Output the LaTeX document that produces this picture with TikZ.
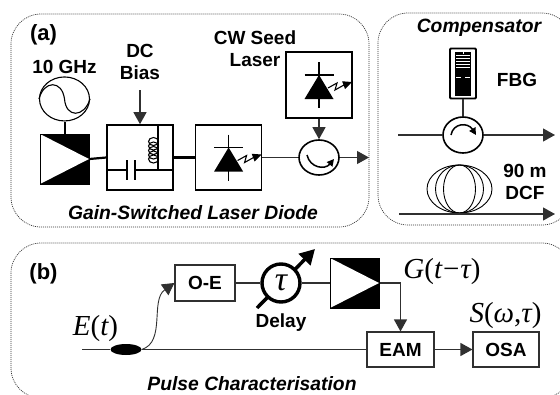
\documentclass[tikz,border=0pt]{standalone}
\usepackage{fontspec}
\setmainfont{Liberation Sans}
\newfontfamily\symfont{Liberation Serif}
\usetikzlibrary{positioning,arrows.meta,shapes.geometric,calc}
\definecolor{cline}{HTML}{303030}
\definecolor{cdots}{HTML}{333333}
\tikzset{
 lbl/.style={inner sep=0pt, align=center, font=\fontsize{19}{22}\selectfont\bfseries},
 ilbl/.style={inner sep=0pt, font=\fontsize{19.3}{22}\selectfont\bfseries\itshape},
 tag/.style={inner sep=0pt, font=\fontsize{22}{24}\selectfont\bfseries},
 sym/.style={inner sep=0pt, font=\fontsize{29}{30}\selectfont\symfont},
 panel/.style={draw=cdots, dash pattern=on 1pt off 1pt, line width=0.7pt, rounded corners=30pt},
 blk/.style={rectangle, draw=black, line width=1.6pt, minimum width=66pt, minimum height=65pt, inner sep=0pt},
 tbox/.style={rectangle, draw=cline, line width=1.1pt, inner sep=0pt, minimum height=35pt, font=\fontsize{19}{22}\selectfont\bfseries},
 amp/.style={rectangle, draw=black, fill=black, line width=1pt, minimum width=49pt, minimum height=50pt, inner sep=0pt,
 path picture={\fill[white] (path picture bounding box.north west) -- (path picture bounding box.east) -- (path picture bounding box.south west) -- cycle;}},
 circu/.style={ellipse, draw=black, line width=1.6pt, minimum width=40pt, minimum height=35pt, inner sep=0pt},
 fl/.style={draw=cline, line width=1.2pt},
 fla/.style={-{Triangle[length=12pt,width=13pt]}, draw=cline, line width=1.2pt},
 flb/.style={draw=black, line width=3.2pt},
 pics/ldiode/.style={code={
 \draw[black, line width=1.6pt] (0,-23) -- (0,23) (-14.5,-10) -- (14.5,-10);
 \fill[black] (0,-10) -- (14.5,14) -- (-14.5,14) -- cycle;
 \draw[black, line width=1.1pt, -{Triangle[length=9pt,width=8pt]}] (9,3) -- (18,-2) -- (16,5) -- (25,0) -- (33,-3);
 }},
}
\begin{document}
\begin{tikzpicture}[x=1pt,y=-1pt]
 \useasboundingbox (0,0) rectangle (560,394);
 \clip (0,0) rectangle (560,394);
 % panels
 \draw[panel] (11,14) rectangle (369,227);
 \draw[panel] (378,13) rectangle (572,225);
 \draw[panel] (11,243) rectangle (572,398);
 % gain switched source
 \node[amp] (AMPA) at (64.5,159) {};
 \node[ellipse, draw=black, line width=1.1pt, minimum width=50pt, minimum height=44pt, inner sep=0pt, above=12pt of AMPA] (RF) {};
 \node[lbl, above=3pt of RF] (RFL) {10 GHz};
 \node[blk] (BIAS) at (140,157.5) {};
 \node[blk, right=21pt of BIAS] (LD) {};
 \node[blk, minimum height=66pt] (SEED) at (319,85) {};
 \node[circu] (CIRA) at (319,157.5) {};
 \coordinate (OUTA) at (369,157.5);
 \coordinate (DCIN) at (140,90);
 \node[lbl] (DCL) at (140,62) {DC\\Bias};
 \node[lbl] (CWT) at (255,48.5) {CW Seed\\Laser};
 \node[tag] (AL) at (43.5,35) {(a)};
 \node[ilbl] (GSL) at (193,213) {Gain-Switched Laser Diode};
 % sine wave
 \draw[black, line width=1.1pt] (RF.west) .. controls (44,80) and (62,80) .. (RF.center) .. controls (66,118) and (84,118) .. (RF.east);
 \draw[black, line width=2pt] (RF) -- (AMPA);
 \draw[flb, line width=2.2pt] (AMPA.east) -- (BIAS.west);
 \draw[flb] (BIAS) -- (LD);
 \draw[fla] (DCIN) -- (BIAS.north);
 % tee inside the bias box
 \draw[black, line width=1.6pt] (158,125) -- (158,170) (107,170) -- (127,170) (135,170) -- (173,170);
 \draw[black, line width=1.6pt] (127,160) -- (127,180) (135,160) -- (135,180);
 \draw[black, line width=1.1pt] (153.5,141.5) ellipse (5 and 4) (153.5,146) ellipse (5 and 4) (153.5,150.5) ellipse (5 and 4) (153.5,155) ellipse (5 and 4) (153.5,159) ellipse (5 and 4);
 \pic at (LD.center) {ldiode};
 \pic at (SEED.center) {ldiode};
 \draw[fl] (LD) -- (CIRA);
 \draw[fla] (SEED) -- (CIRA);
 \draw[fla] (CIRA) -- (OUTA);
 \draw[black, line width=1.5pt, -{Triangle[length=7pt,width=7pt]}] (307,155) .. controls (310,168) and (325,170) .. (334,159);
 % compensator
 \node[ilbl] (COMP) at (479,28) {Compensator};
 \node[rectangle, rounded corners=1pt, draw=black, fill=white, line width=1.8pt, minimum width=26pt, minimum height=50pt, inner sep=0pt] (FBG) at (463,73.5) {};
 \fill[black] (455,52) rectangle (471,96);
 \draw[white, line width=0.9pt] (456,55) -- (470,55) (456,58) -- (470,58) (456,61) -- (470,61) (456,64) -- (470,64) (456,67) -- (470,67) (456,77) -- (461,77) (465,77) -- (470,77);
 \draw[white, line width=1pt] (463,52) -- (463,54);
 \node[lbl] (FBGL) at (517,80) {FBG};
 \node[circu, minimum height=36pt] (CIRB) at (463,135) {};
 \coordinate (INB) at (398,135);
 \coordinate (OUTB) at (555,135);
 \draw[fl] (FBG) -- (CIRB);
 \draw[fl] (INB) -- (CIRB);
 \draw[fla] (CIRB) -- (OUTB);
 \draw[black, line width=1.5pt, -{Triangle[length=7pt,width=7pt]}] (451,135) .. controls (453,123) and (468,122) .. (476,135);
 \node[ellipse, draw=black, line width=0.9pt, minimum width=65pt, minimum height=48pt, inner sep=0pt] (COILA) at (459.5,189) {};
 \node[ellipse, draw=black, line width=0.9pt, minimum width=48pt, minimum height=48pt, inner sep=0pt] (COILB) at (459.5,189) {};
 \node[ellipse, draw=black, line width=0.9pt, minimum width=32pt, minimum height=48pt, inner sep=0pt] (COILC) at (459.5,189) {};
 \node[lbl] (DCFL) at (525,181.5) {90 m\\DCF};
 \coordinate (INC) at (399,214);
 \coordinate (OUTC) at (555,214);
 \draw[fla] (INC) -- (OUTC);
 % characterisation
 \node[tag] (BL) at (43.5,274) {(b)};
 \node[tbox, minimum width=60pt, minimum height=36pt] (OE) at (205,283) {O-E};
 \coordinate (DLYS) at (257,308);
 \coordinate (DLYE) at (315,249);
 \draw[black, line width=3.5pt, -{Triangle[length=15pt,width=16pt]}] (DLYS) -- (DLYE);
 \node[circle, draw=black, fill=white, line width=3.4pt, minimum size=38pt, inner sep=0pt, sym] (DLY) at (281,283) {\fontsize{34}{34}\selectfont\itshape τ};
 \node[lbl] (DLYL) at (281,323) {Delay};
 \node[amp] (AMPB) at (354.5,283) {};
 \node[tbox, minimum width=67pt] (EAM) at (400.5,349.5) {EAM};
 \node[tbox, minimum width=66pt] (OSA) at (506,349.5) {OSA};
 \node[ellipse, fill=black, minimum width=31pt, minimum height=11pt, inner sep=0pt] (TAP) at (126,349.5) {};
 \coordinate (EIN) at (82,349.5);
 \node[sym] (EL) at (95.5,329) {\itshape E\upshape(\itshape t\upshape)};
 \node[sym] (GL) at (442,272) {\itshape G\upshape(\itshape t\upshape\kern1pt−\kern1pt\itshape τ\upshape)};
 \node[sym] (SL) at (505.5,316) {\itshape S\upshape(\itshape ω\upshape,\itshape τ\upshape)};
 \node[ilbl] (PCL) at (252,384) {Pulse Characterisation};
 \draw[fl] (EIN) -- (TAP);
 \draw[fl] (TAP) -- (EAM);
 \draw[fla, line width=0.9pt] (TAP.east) .. controls (166,342) and (150,300) .. (OE.west);
 \draw[fl] (OE) -- (DLY);
 \draw[fl] (DLY) -- (AMPB);
 \draw[fla] (AMPB.east) -| (EAM.north);
 \draw[fla] (EAM) -- (OSA);
\end{tikzpicture}
\end{document}
